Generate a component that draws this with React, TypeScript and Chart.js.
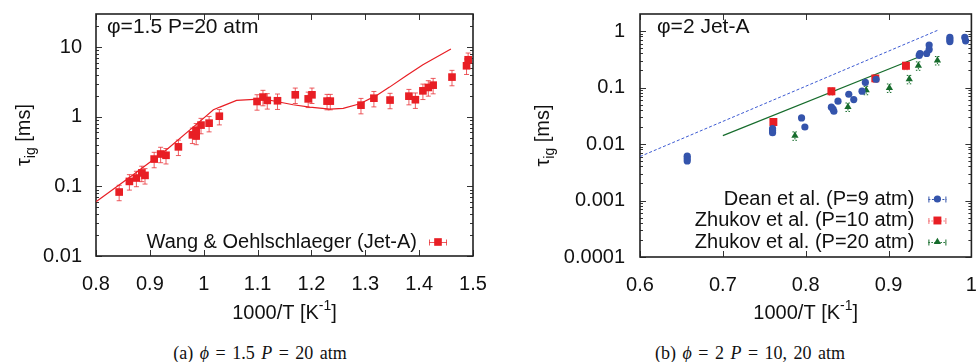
import React, { useEffect, useRef } from 'react';
import { Chart, registerables } from 'chart.js';

Chart.register(...registerables);

const SANS = "'Liberation Sans', Arial, Helvetica, sans-serif";
const SERIF = "'Liberation Serif', 'Times New Roman', serif";
const INK = '#111111';
const RED = 'rgb(232,30,36)';
const RED_ERR = 'rgba(232,50,55,0.8)';
const BLUE = 'rgb(52,84,172)';
const GREEN = 'rgb(22,108,44)';

// ---------------- Panel (a): phi = 1.5, P = 20 atm ----------------
const xTicksA = [0.8, 0.9, 1.0, 1.1, 1.2, 1.3, 1.4, 1.5];
const yTicksA = [0.01, 0.1, 1, 10];

const wangX = [0.843, 0.862, 0.875, 0.885, 0.891, 0.908, 0.920, 0.930, 0.953, 0.979, 0.986, 0.986, 0.995, 1.010, 1.029,
  1.099, 1.110, 1.118, 1.137, 1.170, 1.194, 1.201, 1.229, 1.235, 1.292, 1.316, 1.346, 1.381, 1.393, 1.407, 1.417, 1.426,
  1.461, 1.488, 1.491];
const wangY = [0.083, 0.118, 0.132, 0.156, 0.144, 0.247, 0.292, 0.280, 0.37, 0.55, 0.53, 0.64, 0.76, 0.81, 1.02,
  1.66, 1.92, 1.72, 1.70, 2.07, 1.81, 2.07, 1.68, 1.68, 1.47, 1.85, 1.74, 1.98, 1.76, 2.36, 2.64, 2.85,
  3.72, 5.41, 6.6];

const modelAX = [0.8, 0.869, 0.931, 0.987, 1.018, 1.030, 1.061, 1.110, 1.135, 1.166, 1.197, 1.234, 1.259, 1.290, 1.321,
  1.345, 1.376, 1.407, 1.459];
const modelAY = [0.060, 0.147, 0.336, 0.785, 1.26, 1.38, 1.72, 1.81, 1.66, 1.49, 1.38, 1.29, 1.32, 1.54, 2.03,
  2.67, 3.9, 5.6, 9.4];

// ---------------- Panel (b): phi = 2, Jet-A ----------------
const xTicksB = [0.6, 0.7, 0.8, 0.9, 1.0];
const yTicksB = [0.0001, 0.001, 0.01, 0.1, 1];

const deanX = [0.657, 0.657, 0.657, 0.760, 0.760, 0.760, 0.795, 0.799, 0.831, 0.833, 0.834, 0.839, 0.852, 0.858, 0.868,
  0.872, 0.885, 0.937, 0.938, 0.946, 0.949, 0.949, 0.974, 0.974, 0.974, 0.992, 0.993];
const deanY = [0.0061, 0.0055, 0.0050, 0.0187, 0.0172, 0.0159, 0.0289, 0.020, 0.0448, 0.0413, 0.038, 0.0573, 0.076, 0.0612, 0.086,
  0.123, 0.14, 0.369, 0.40, 0.40, 0.473, 0.565, 0.65, 0.71, 0.77, 0.77, 0.67];

const zh10X = [0.761, 0.831, 0.884, 0.921];
const zh10Y = [0.0245, 0.086, 0.145, 0.243];

const zh20X = [0.787, 0.851, 0.873, 0.901, 0.925, 0.936, 0.959];
const zh20Y = [0.014, 0.0454, 0.0897, 0.0986, 0.14, 0.243, 0.302];

const deanModelX = [0.6, 0.96];
const deanModelY = [0.0060, 1.04];
const zhModelX = [0.7, 0.935];
const zhModelY = [0.0141, 0.34];

// ---------------- helpers ----------------
const pts = (xs: number[], ys: number[]) => xs.map((x, i) => ({ x, y: ys[i] }));
const fmt = (v: any) => `${+Number(v).toFixed(4)}`;

function seg(ctx: CanvasRenderingContext2D, x1: number, y1: number, x2: number, y2: number) {
  ctx.beginPath();
  ctx.moveTo(x1, y1);
  ctx.lineTo(x2, y2);
  ctx.stroke();
}

function minorLogTicks(min: number, max: number) {
  const out: number[] = [];
  for (let e = Math.floor(Math.log10(min)); e <= Math.ceil(Math.log10(max)); e++) {
    const d = Math.pow(10, e);
    for (let k = 2; k <= 9; k++) {
      const v = k * d;
      if (v > min * 1.0001 && v < max * 0.9999) out.push(v);
    }
  }
  return out;
}

function drawMarker(ctx: CanvasRenderingContext2D, style: string, x: number, y: number, r: number, color: string) {
  ctx.save();
  ctx.fillStyle = color;
  ctx.beginPath();
  if (style === 'rect') {
    const s = r * Math.SQRT1_2;
    ctx.rect(x - s, y - s, 2 * s, 2 * s);
  } else if (style === 'triangle') {
    let a = 0;
    ctx.moveTo(x + Math.sin(a) * r, y - Math.cos(a) * r);
    a += (2 * Math.PI) / 3;
    ctx.lineTo(x + Math.sin(a) * r, y - Math.cos(a) * r);
    a += (2 * Math.PI) / 3;
    ctx.lineTo(x + Math.sin(a) * r, y - Math.cos(a) * r);
    ctx.closePath();
  } else {
    ctx.arc(x, y, r, 0, Math.PI * 2);
  }
  ctx.fill();
  ctx.restore();
}

const framePlugin = {
  id: 'frame',
  beforeDatasetsDraw(chart: any) {
    const { ctx, chartArea: a, scales } = chart;
    const xs = scales.x;
    const ys = scales.y;
    ctx.save();
    ctx.strokeStyle = '#333';
    ctx.lineWidth = 1;
    xs.ticks.forEach((t: any) => {
      const p = Math.round(xs.getPixelForValue(t.value)) + 0.5;
      seg(ctx, p, a.bottom, p, a.bottom - 6);
      seg(ctx, p, a.top, p, a.top + 6);
    });
    ys.ticks.forEach((t: any) => {
      const p = Math.round(ys.getPixelForValue(t.value)) + 0.5;
      seg(ctx, a.left, p, a.left + 6, p);
      seg(ctx, a.right, p, a.right - 6, p);
    });
    minorLogTicks(ys.min, ys.max).forEach((v) => {
      const p = Math.round(ys.getPixelForValue(v)) + 0.5;
      seg(ctx, a.left, p, a.left + 3, p);
      seg(ctx, a.right, p, a.right - 3, p);
    });
    ctx.lineWidth = 1.6;
    ctx.strokeStyle = '#222';
    ctx.strokeRect(a.left, a.top, a.right - a.left, a.bottom - a.top);
    ctx.restore();
  },
};

const errorBarPlugin = {
  id: 'errorBars',
  beforeDatasetsDraw(chart: any) {
    const { ctx, chartArea: a, scales } = chart;
    const ys = scales.y;
    ctx.save();
    ctx.beginPath();
    ctx.rect(a.left, a.top, a.right - a.left, a.bottom - a.top);
    ctx.clip();
    chart.data.datasets.forEach((ds: any, i: number) => {
      const eb = ds.errorBar;
      if (!eb) return;
      const meta = chart.getDatasetMeta(i);
      ctx.strokeStyle = eb.color;
      ctx.lineWidth = 1;
      ctx.setLineDash(eb.dash || []);
      ds.data.forEach((p: any, j: number) => {
        const el = meta.data[j];
        if (!el) return;
        const x = el.x;
        const yTop = ys.getPixelForValue(p.y * (1 + eb.frac));
        const yBot = ys.getPixelForValue(p.y * (1 - eb.frac));
        seg(ctx, x, yTop, x, yBot);
        seg(ctx, x - eb.cap, yTop, x + eb.cap, yTop);
        seg(ctx, x - eb.cap, yBot, x + eb.cap, yBot);
      });
    });
    ctx.restore();
  },
};

const decorPlugin = {
  id: 'decor',
  afterDraw(chart: any, _args: any, opts: any) {
    const { ctx, chartArea: a } = chart;
    ctx.save();
    ctx.fillStyle = INK;
    ctx.textBaseline = 'middle';

    // panel label
    ctx.font = `21px ${SANS}`;
    ctx.textAlign = 'left';
    ctx.fillText(opts.panelText, a.left + opts.panelDx, a.top + 13);

    // legend
    const items: number[] = opts.legendItems;
    items.forEach((di: number, k: number) => {
      const ds = chart.data.datasets[di];
      const y = a.bottom - opts.legendBottom - (items.length - 1 - k) * opts.legendRow;
      ctx.font = `20px ${SANS}`;
      ctx.textAlign = 'right';
      ctx.fillStyle = INK;
      ctx.fillText(ds.label, a.right - opts.legendTextRight, y);
      const sx = a.right - opts.legendSample;
      const hw = 9;
      const eb = ds.errorBar || { color: ds.pointBackgroundColor };
      ctx.save();
      ctx.strokeStyle = eb.color;
      ctx.lineWidth = 1;
      ctx.setLineDash(eb.dash || []);
      seg(ctx, sx - hw, y + 0.5, sx + hw, y + 0.5);
      ctx.setLineDash([]);
      seg(ctx, sx - hw + 0.5, y - 2.5, sx - hw + 0.5, y + 3.5);
      seg(ctx, sx + hw - 0.5, y - 2.5, sx + hw - 0.5, y + 3.5);
      ctx.restore();
      drawMarker(ctx, ds.pointStyle, sx, y, ds.pointRadius, ds.pointBackgroundColor);
    });

    // x axis title: 1000/T [K^-1]
    ctx.fillStyle = INK;
    ctx.textAlign = 'left';
    ctx.textBaseline = 'alphabetic';
    const main1 = '1000/T [K';
    const sup = '-1';
    const main2 = ']';
    ctx.font = `20px ${SANS}`;
    const w1 = ctx.measureText(main1).width;
    const w3 = ctx.measureText(main2).width;
    ctx.font = `14px ${SANS}`;
    const w2 = ctx.measureText(sup).width;
    const cx = (a.left + a.right) / 2;
    const by = a.bottom + opts.xTitleOffset + 7;
    const x0 = cx - (w1 + w2 + w3) / 2;
    ctx.font = `20px ${SANS}`;
    ctx.fillText(main1, x0, by);
    ctx.font = `14px ${SANS}`;
    ctx.fillText(sup, x0 + w1, by - 9);
    ctx.font = `20px ${SANS}`;
    ctx.fillText(main2, x0 + w1 + w2, by);

    // y axis title: tau_ig [ms]
    ctx.save();
    ctx.translate(a.left - opts.yTitleOffset, (a.top + a.bottom) / 2);
    ctx.rotate(-Math.PI / 2);
    const t1 = '\u03C4';
    const sub = 'ig';
    const t3 = ' [ms]';
    ctx.font = `20px ${SANS}`;
    const u1 = ctx.measureText(t1).width;
    const u3 = ctx.measureText(t3).width;
    ctx.font = `14px ${SANS}`;
    const u2 = ctx.measureText(sub).width;
    const x1 = -(u1 + u2 + u3) / 2;
    const bl = 7;
    ctx.font = `20px ${SANS}`;
    ctx.fillText(t1, x1, bl);
    ctx.font = `14px ${SANS}`;
    ctx.fillText(sub, x1 + u1, bl + 5);
    ctx.font = `20px ${SANS}`;
    ctx.fillText(t3, x1 + u1 + u2, bl);
    ctx.restore();

    ctx.restore();
  },
};

function axisScales(xMin: number, xMax: number, xTicks: number[], yMin: number, yMax: number, yTicks: number[],
  xHeight: number, yWidth: number, yPad: number) {
  const tickFont = { family: SANS, size: 20 };
  return {
    x: {
      type: 'linear',
      min: xMin,
      max: xMax,
      afterBuildTicks: (s: any) => { s.ticks = xTicks.map((v) => ({ value: v })); },
      afterFit: (s: any) => { s.height = xHeight; s.paddingLeft = 0; s.paddingRight = 0; },
      grid: { display: false, drawTicks: false },
      border: { display: false },
      ticks: { padding: 16, color: INK, font: tickFont, autoSkip: false, maxRotation: 0, callback: (v: any) => fmt(v) },
    },
    y: {
      type: 'logarithmic',
      min: yMin,
      max: yMax,
      afterBuildTicks: (s: any) => { s.ticks = yTicks.map((v) => ({ value: v })); },
      afterFit: (s: any) => { s.width = yWidth; s.paddingTop = 0; s.paddingBottom = 0; },
      grid: { display: false, drawTicks: false },
      border: { display: false },
      ticks: { padding: yPad, color: INK, font: tickFont, autoSkip: false, callback: (v: any) => fmt(v) },
    },
  };
}

function configA(): any {
  return {
    type: 'scatter',
    data: {
      datasets: [
        {
          label: 'Wang & Oehlschlaeger (Jet-A)',
          data: pts(wangX, wangY),
          pointStyle: 'rect',
          pointRadius: 5.4,
          pointBackgroundColor: RED,
          pointBorderColor: RED,
          pointBorderWidth: 0,
          errorBar: { frac: 0.25, color: RED_ERR, cap: 2.5 },
          order: 0,
        },
        {
          label: 'model',
          data: pts(modelAX, modelAY),
          showLine: true,
          pointRadius: 0,
          borderColor: RED,
          borderWidth: 1.2,
          tension: 0,
          order: 1,
        },
      ],
    },
    options: {
      responsive: false,
      animation: false,
      events: [],
      layout: { padding: { left: 0, right: 17, top: 14, bottom: 0 } },
      plugins: {
        legend: { display: false },
        tooltip: { enabled: false },
        decor: {
          panelText: '\u03C6=1.5 P=20 atm',
          panelDx: 11,
          legendItems: [0],
          legendBottom: 14,
          legendRow: 21.5,
          legendTextRight: 56,
          legendSample: 35,
          xTitleOffset: 56,
          yTitleOffset: 73,
        },
      },
      scales: axisScales(0.8, 1.5, xTicksA, 0.01, 30, yTicksA, 79, 96, 14),
    },
    plugins: [framePlugin, errorBarPlugin, decorPlugin],
  };
}

function configB(): any {
  return {
    type: 'scatter',
    data: {
      datasets: [
        {
          label: 'Dean et al. (P=9 atm)',
          data: pts(deanX, deanY),
          pointStyle: 'circle',
          pointRadius: 3.6,
          pointBackgroundColor: BLUE,
          pointBorderColor: BLUE,
          pointBorderWidth: 0,
          errorBar: { frac: 0.08, color: BLUE, cap: 2, dash: [2, 1.5] },
          order: 0,
        },
        {
          label: 'Zhukov et al. (P=10 atm)',
          data: pts(zh10X, zh10Y),
          pointStyle: 'rect',
          pointRadius: 5.6,
          pointBackgroundColor: RED,
          pointBorderColor: RED,
          pointBorderWidth: 0,
          errorBar: { frac: 0.15, color: 'rgba(240,90,95,0.85)', cap: 2.5, dash: [1.5, 1.5] },
          order: 0,
        },
        {
          label: 'Zhukov et al. (P=20 atm)',
          data: pts(zh20X, zh20Y),
          pointStyle: 'triangle',
          pointRadius: 4.2,
          pointBackgroundColor: GREEN,
          pointBorderColor: GREEN,
          pointBorderWidth: 0,
          errorBar: { frac: 0.17, color: GREEN, cap: 2.5, dash: [1.5, 1.5] },
          order: 0,
        },
        {
          label: 'Dean model',
          data: pts(deanModelX, deanModelY),
          showLine: true,
          pointRadius: 0,
          borderColor: 'rgb(60,90,210)',
          borderWidth: 1,
          borderDash: [3, 2],
          order: 1,
        },
        {
          label: 'Zhukov model',
          data: pts(zhModelX, zhModelY),
          showLine: true,
          pointRadius: 0,
          borderColor: GREEN,
          borderWidth: 1.2,
          order: 1,
        },
      ],
    },
    options: {
      responsive: false,
      animation: false,
      events: [],
      layout: { padding: { left: 0, right: 5, top: 14, bottom: 0 } },
      plugins: {
        legend: { display: false },
        tooltip: { enabled: false },
        decor: {
          panelText: '\u03C6=2 Jet-A',
          panelDx: 17,
          legendItems: [0, 1, 2],
          legendBottom: 15,
          legendRow: 21.5,
          legendTextRight: 57,
          legendSample: 34,
          xTitleOffset: 55,
          yTitleOffset: 98,
        },
      },
      scales: axisScales(0.6, 1.0, xTicksB, 0.0001, 2, yTicksB, 78, 150, 15),
    },
    plugins: [framePlugin, errorBarPlugin, decorPlugin],
  };
}

const captionStyle = (left: number, width: number): React.CSSProperties => ({
  position: 'absolute',
  left,
  top: 342,
  width,
  textAlign: 'center',
  fontFamily: SERIF,
  fontSize: 18,
  lineHeight: '22px',
  wordSpacing: 2,
  color: INK,
  whiteSpace: 'pre',
});

export default function App() {
  const refA = useRef<HTMLCanvasElement>(null);
  const refB = useRef<HTMLCanvasElement>(null);

  useEffect(() => {
    const ca = new Chart(refA.current as HTMLCanvasElement, configA());
    const cb = new Chart(refB.current as HTMLCanvasElement, configB());
    return () => {
      ca.destroy();
      cb.destroy();
    };
  }, []);

  return (
    <div style={{ position: 'absolute', left: 0, top: 0, width: 977, height: 362, background: '#fff', overflow: 'hidden' }}>
      <canvas ref={refA} width={490} height={335} style={{ position: 'absolute', left: 0, top: 0 }} />
      <canvas ref={refB} width={487} height={335} style={{ position: 'absolute', left: 490, top: 0 }} />
      <div style={captionStyle(0, 520)}>
        (a) <i>{'\u03D5'}</i> = 1.5 <i>P</i> = 20 atm
      </div>
      <div style={captionStyle(500, 500)}>
        (b) <i>{'\u03D5'}</i> = 2 <i>P</i> = 10, 20 atm
      </div>
    </div>
  );
}
